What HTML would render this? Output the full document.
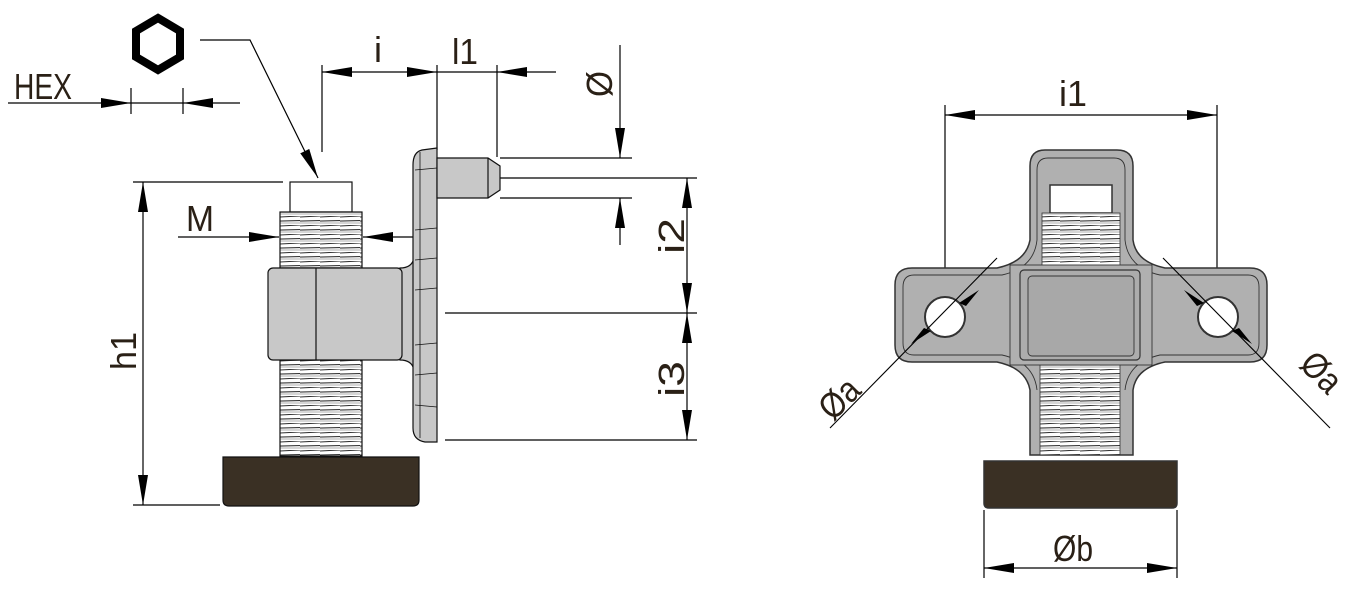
<!DOCTYPE html>
<html><head><meta charset="utf-8"><style>
html,body{margin:0;padding:0;background:#fff}
svg{display:block}
text{font-family:"Liberation Sans Narrow","Liberation Sans",sans-serif;fill:#2a2016;font-size:36px}
</style></head><body>
<svg width="1346" height="589" viewBox="0 0 1346 589" xmlns="http://www.w3.org/2000/svg">
<defs>
<marker id="a" viewBox="0 0 30 10" refX="30" refY="5" markerWidth="30" markerHeight="10" markerUnits="userSpaceOnUse" orient="auto-start-reverse"><path d="M0,0 L30,5 L0,10 Z" fill="#000"/></marker>
<pattern id="th" width="20" height="9" patternUnits="userSpaceOnUse">
<rect width="20" height="9" fill="#fff"/>
<path d="M0,1 L20,0 M0,5 L20,4.5" stroke="#333" stroke-width="1.1"/>
<rect y="5.5" width="20" height="2.5" fill="#d6d6d6"/>
</pattern>
</defs>
<g stroke="#000" stroke-width="1.2" fill="none">
<polygon points="158,18 180,31 180,57 158,70 136,57 136,31" stroke-width="8" stroke-linejoin="miter"/>
<polyline points="200,40 250,40 318,178" marker-end="url(#a)"/>
<line x1="8" y1="103" x2="131" y2="103" marker-end="url(#a)"/>
<line x1="240" y1="103" x2="183" y2="103" marker-end="url(#a)"/>
<line x1="131" y1="88" x2="131" y2="114"/><line x1="183" y1="88" x2="183" y2="114"/>
<line x1="131" y1="103" x2="183" y2="103"/>
<line x1="322" y1="65" x2="322" y2="152"/><line x1="437" y1="65" x2="437" y2="150"/><line x1="497" y1="65" x2="497" y2="157"/>
<line x1="380" y1="72" x2="322" y2="72" marker-end="url(#a)"/>
<line x1="380" y1="72" x2="437" y2="72" marker-end="url(#a)"/>
<line x1="437" y1="72" x2="497" y2="72"/>
<line x1="556" y1="72" x2="497" y2="72" marker-end="url(#a)"/>
<line x1="620" y1="45" x2="620" y2="158" marker-end="url(#a)"/>
<line x1="620" y1="245" x2="620" y2="198" marker-end="url(#a)"/>
<line x1="500" y1="158" x2="632" y2="158"/><line x1="500" y1="198" x2="632" y2="198"/>
<line x1="500" y1="178" x2="697" y2="178"/>
<line x1="445" y1="313" x2="697" y2="313"/>
<line x1="445" y1="440" x2="697" y2="440"/>
<line x1="687" y1="245" x2="687" y2="178" marker-end="url(#a)"/>
<line x1="687" y1="245" x2="687" y2="313" marker-end="url(#a)"/>
<line x1="687" y1="376" x2="687" y2="313" marker-end="url(#a)"/>
<line x1="687" y1="376" x2="687" y2="440" marker-end="url(#a)"/>
<line x1="133" y1="182" x2="283" y2="182"/><line x1="133" y1="505" x2="220" y2="505"/>
<line x1="143" y1="340" x2="143" y2="182" marker-end="url(#a)"/>
<line x1="143" y1="340" x2="143" y2="505" marker-end="url(#a)"/>
<line x1="178" y1="237" x2="279" y2="237" marker-end="url(#a)"/>
<line x1="420" y1="237" x2="363" y2="237" marker-end="url(#a)"/>
</g>
<g stroke="#111" stroke-width="1.2">
<rect x="290" y="182" width="62" height="30" fill="#fff"/>
<rect x="280" y="212" width="82" height="56" fill="url(#th)"/>
<rect x="280" y="360" width="82" height="96" fill="url(#th)"/>
<path d="M400,268 Q412,268 414,258 L414,370 Q412,360 400,360 Z" fill="#c8c8c8"/>
<rect x="268" y="268" width="134" height="92" rx="5" fill="#c8c8c8"/>
<line x1="316" y1="268" x2="316" y2="360"/>
<path d="M437,148 L422,150 Q413,152 413,165 L413,428 Q413,440 425,442 L437,442 Z" fill="#c8c8c8"/>
<path d="M437,158 L488,158 L500,166 L500,190 L488,198 L437,198 Z" fill="#c8c8c8"/>
<line x1="488" y1="158" x2="488" y2="198"/>
<g stroke-width="0.8"><line x1="415" y1="170" x2="437" y2="168"/><line x1="415" y1="230" x2="437" y2="228"/><line x1="415" y1="260" x2="437" y2="258"/><line x1="415" y1="290" x2="437" y2="288"/><line x1="415" y1="345" x2="437" y2="343"/><line x1="415" y1="375" x2="437" y2="373"/><line x1="415" y1="405" x2="437" y2="407"/><line x1="420" y1="152" x2="420" y2="438"/></g>
<path d="M223,457 L419,457 L419,500 Q419,506 413,506 L229,506 Q223,506 223,500 Z" fill="#3a3024"/>
</g>
<g stroke="#000" stroke-width="1.2" fill="none">
<line x1="945" y1="105" x2="945" y2="317"/><line x1="1217" y1="105" x2="1217" y2="317"/>
<line x1="1080" y1="115" x2="945" y2="115" marker-end="url(#a)"/>
<line x1="1080" y1="115" x2="1217" y2="115" marker-end="url(#a)"/>
<line x1="984" y1="510" x2="984" y2="578"/><line x1="1177" y1="510" x2="1177" y2="578"/>
<line x1="1080" y1="568" x2="984" y2="568" marker-end="url(#a)"/>
<line x1="1080" y1="568" x2="1177" y2="568" marker-end="url(#a)"/>
</g>
<g stroke="#333" stroke-width="1.5">
<path d="M1045,150 L1117,150 Q1133,150 1133,166 L1133,240 Q1136,262 1165,268 L1250,268 Q1267,268 1267,285 L1267,345 Q1267,362 1250,362 L1165,362 Q1136,368 1133,390 L1133,455 L1030,455 L1030,390 Q1026,368 997,362 L912,362 Q895,362 895,345 L895,285 Q895,268 912,268 L997,268 Q1026,262 1030,240 L1030,166 Q1030,150 1045,150 Z" fill="#b0b0b0"/>
<path d="M1048,158 L1114,158 Q1125,158 1125,170 L1125,240 Q1128,268 1160,275 L1248,275 Q1259,275 1259,287 L1259,343 Q1259,355 1248,355 L1160,355 Q1128,362 1125,390 M1037,390 Q1034,362 1002,355 L914,355 Q903,355 903,343 L903,287 Q903,275 914,275 L1002,275 Q1034,268 1037,240 L1037,170 Q1037,158 1048,158" fill="none" stroke-width="0.9"/>
<rect x="1050" y="185" width="62" height="28" fill="#fff"/>
<rect x="1042" y="213" width="78" height="55" fill="url(#th)" stroke-width="0.8"/>
<rect x="1040" y="362" width="80" height="93" fill="url(#th)" stroke-width="0.8"/>
<rect x="1010" y="265" width="142" height="100" fill="#b0b0b0" stroke-width="0.9"/>
<rect x="1020" y="270" width="120" height="90" rx="4" fill="#acacac" stroke-width="1.2"/>
<rect x="1028" y="276" width="106" height="80" rx="4" fill="#a8a8a8" stroke-width="0.9"/>
<circle cx="945" cy="317" r="20" fill="#fff" stroke-width="2"/>
<circle cx="1218" cy="317" r="20" fill="#fff" stroke-width="2"/>
<path d="M984,461 L1177,461 L1177,503 Q1177,508 1172,508 L989,508 Q984,508 984,503 Z" fill="#3a3024"/>
</g>
<g stroke="#000" stroke-width="1.1">
<line x1="830" y1="428" x2="997" y2="258"/>
<line x1="1163" y1="258" x2="1330" y2="428"/>
</g>
<g fill="#000">
<path d="M931,331 L911,344 L924,328 Z"/><path d="M959,303 L979,290 L966,306 Z"/>
<path d="M1204,303 L1184,290 L1197,306 Z"/><path d="M1232,331 L1252,344 L1239,328 Z"/>
</g>
<text x="14" y="99" textLength="58" lengthAdjust="spacingAndGlyphs">HEX</text>
<text x="374" y="62">i</text>
<text x="452" y="64" textLength="26" lengthAdjust="spacingAndGlyphs">l1</text>
<text x="186" y="231" textLength="28" lengthAdjust="spacingAndGlyphs">M</text>
<text transform="translate(612,97) rotate(-90)" textLength="26" lengthAdjust="spacingAndGlyphs">Ø</text>
<text transform="translate(684,254) rotate(-90)" textLength="36" lengthAdjust="spacingAndGlyphs">i2</text>
<text transform="translate(684,397) rotate(-90)" textLength="36" lengthAdjust="spacingAndGlyphs">i3</text>
<text transform="translate(136,370) rotate(-90)" textLength="38" lengthAdjust="spacingAndGlyphs">h1</text>
<text x="1059" y="106" textLength="28" lengthAdjust="spacingAndGlyphs">i1</text>
<text x="1053" y="561" textLength="40" lengthAdjust="spacingAndGlyphs">Øb</text>
<text transform="translate(833,422) rotate(-45)" textLength="42" lengthAdjust="spacingAndGlyphs">Øa</text>
<text transform="translate(1298,366) rotate(45)" textLength="42" lengthAdjust="spacingAndGlyphs">Øa</text>
</svg>
</body></html>
